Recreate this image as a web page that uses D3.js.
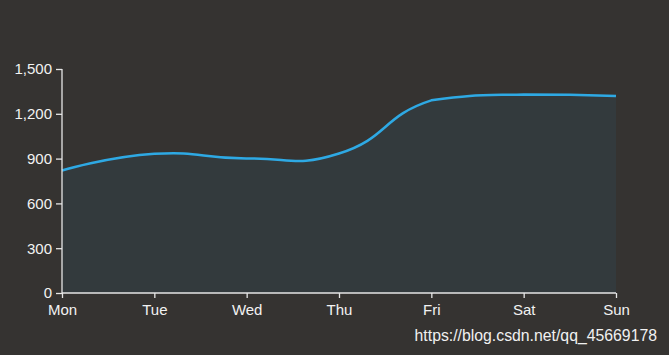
<!DOCTYPE html>
<html>
<head>
<meta charset="utf-8">
<script src="https://cdn.jsdelivr.net/npm/d3@7"></script>
<style>
  body { margin: 0; background: #353331; }
</style>
</head>
<body>
<div id="chart-area"></div>
<script>
var days = ["Mon", "Tue", "Wed", "Thu", "Fri", "Sat", "Sun"];
var values = [820, 932, 901, 934, 1290, 1330, 1320];
var yTicks = [0, 300, 600, 900, 1200, 1500];

var W = 669, H = 355;
var margin = { left: 62, right: 53, top: 69, bottom: 62 };
var width = W - margin.left - margin.right,
    height = H - margin.top - margin.bottom;

// smooth curve in the style of the original chart library (smooth = 0.5,
// control points weighted by segment length, kept inside the points' box)
function SmoothCurve(context) { this._context = context; }
SmoothCurve.prototype = {
    areaStart: function() { this._line = 0; },
    areaEnd: function() { this._line = NaN; },
    lineStart: function() { this._pts = []; },
    point: function(px, py) { this._pts.push([+px, +py]); },
    lineEnd: function() {
        var p = this._pts, n = p.length, c = this._context, s = 0.5;
        if (n) {
            if (this._line) c.lineTo(p[0][0], p[0][1]);
            else c.moveTo(p[0][0], p[0][1]);
        }
        if (n > 1) {
            var minX = d3.min(p, function(d) { return d[0]; }),
                maxX = d3.max(p, function(d) { return d[0]; }),
                minY = d3.min(p, function(d) { return d[1]; }),
                maxY = d3.max(p, function(d) { return d[1]; });
            var clamp = function(q) {
                return [Math.max(minX, Math.min(maxX, q[0])), Math.max(minY, Math.min(maxY, q[1]))];
            };
            var cps = [];
            for (var i = 0; i < n; i++) {
                if (i === 0 || i === n - 1) { cps.push(p[i]); continue; }
                var a = p[i - 1], b = p[i], e = p[i + 1];
                var vx = (e[0] - a[0]) * s, vy = (e[1] - a[1]) * s;
                var d0 = Math.hypot(b[0] - a[0], b[1] - a[1]),
                    d1 = Math.hypot(e[0] - b[0], e[1] - b[1]),
                    sum = d0 + d1;
                if (sum) { d0 /= sum; d1 /= sum; }
                cps.push(clamp([b[0] - vx * d0, b[1] - vy * d0]));
                cps.push(clamp([b[0] + vx * d1, b[1] + vy * d1]));
            }
            for (var k = 0; k < n - 1; k++) {
                var c0 = cps[2 * k], c1 = cps[2 * k + 1];
                c.bezierCurveTo(c0[0], c0[1], c1[0], c1[1], p[k + 1][0], p[k + 1][1]);
            }
        }
        if (this._line || (this._line !== 0 && n === 1)) c.closePath();
        this._line = 1 - this._line;
    }
};
function smoothCurve(context) { return new SmoothCurve(context); }

var svg = d3.select("#chart-area")
    .append("svg")
        .attr("width", W)
        .attr("height", H)
        .style("display", "block");

svg.append("rect")
    .attr("width", W)
    .attr("height", H)
    .attr("fill", "#353331");

var g = svg.append("g")
    .attr("transform", "translate(" + margin.left + "," + margin.top + ")");

// scales
var x = d3.scalePoint()
    .domain(days)
    .range([0, width]);

var y = d3.scaleLinear()
    .domain([0, 1500])
    .range([height, 0]);

// area
var area = d3.area()
    .x(function(d, i) { return x(days[i]); })
    .y0(height)
    .y1(function(d) { return y(d); })
    .curve(smoothCurve);

g.append("path")
    .datum(values)
    .attr("d", area)
    .attr("fill", "#333a3d");

// line
var line = d3.line()
    .x(function(d, i) { return x(days[i]); })
    .y(function(d) { return y(d); })
    .curve(smoothCurve);

g.append("path")
    .datum(values)
    .attr("d", line)
    .attr("fill", "none")
    .attr("stroke", "#2ea9e4")
    .attr("stroke-width", 2.5);

// axes
var axisColor = "#e6e6e6";
var font = "'Liberation Sans', Arial, sans-serif";

var xAxis = g.append("g")
    .attr("transform", "translate(0," + height + ")")
    .call(d3.axisBottom(x).tickSize(5).tickPadding(6.5).tickSizeOuter(0));

var yAxis = g.append("g")
    .call(d3.axisLeft(y).tickValues(yTicks).tickSize(6).tickPadding(4)
        .tickSizeOuter(0).tickFormat(d3.format(",")));

[xAxis, yAxis].forEach(function(a) {
    a.selectAll("path, line").attr("stroke", axisColor).attr("stroke-width", 1.3);
    a.selectAll("text")
        .attr("fill", "#f2f2f2")
        .style("font-family", font)
        .style("font-size", "15px");
});
xAxis.select(".domain").attr("d", "M0,0H" + width);
yAxis.select(".domain").attr("d", "M0," + height + "V0");

// watermark
svg.append("text")
    .attr("x", W - 12)
    .attr("y", 341)
    .attr("text-anchor", "end")
    .attr("fill", "#f0f0f0")
    .style("font-family", "'Liberation Sans', Arial, sans-serif")
    .style("font-size", "15.8px")
    .text("https://blog.csdn.net/qq_45669178");
</script>
</body>
</html>
